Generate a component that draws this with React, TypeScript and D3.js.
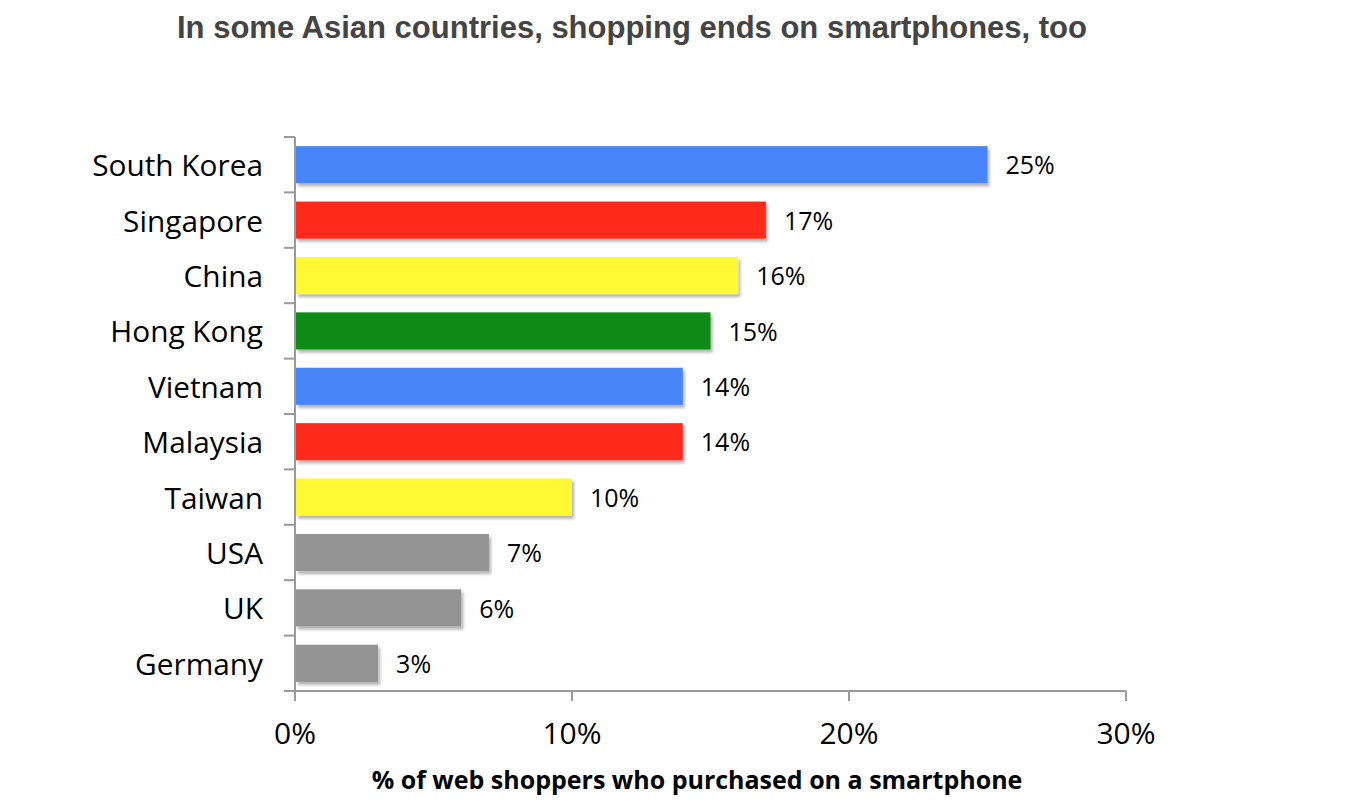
import React from "react";
import * as d3 from "d3";

const countries = ["South Korea", "Singapore", "China", "Hong Kong", "Vietnam", "Malaysia", "Taiwan", "USA", "UK", "Germany"];
const shares = [25, 17, 16, 15, 14, 14, 10, 7, 6, 3];
const barColors = ["#4885FA", "#FF2B1F", "#FFF935", "#0E8B19", "#4885FA", "#FF2B1F", "#FFF935", "#939393", "#939393", "#939393"];
const xTicks = [0, 10, 20, 30];
const title = "In some Asian countries, shopping ends on smartphones, too";
const xTitle = "% of web shoppers who purchased on a smartphone";

const W = 1346;
const H = 810;
const left = 295;
const right = 1126;
const top = 137;
const bottom = 691;

export default function App() {
  const x = d3.scaleLinear().domain([0, 30]).range([left, right]);
  const y = d3.scaleBand<string>().domain(countries).range([top, bottom]).paddingInner(0.33).paddingOuter(0.165);
  const step = y.step();
  const boundaries = d3.range(countries.length + 1).map((i) => top + i * step);
  const font = "'Open Sans', sans-serif";
  return (
    <svg width={W} height={H} style={{ position: "absolute", left: 0, top: 0, background: "#fff" }}>
      <defs>
        <filter id="sh" x="-5%" y="-20%" width="110%" height="160%">
          <feDropShadow dx="2" dy="3" stdDeviation="1.6" floodColor="#000" floodOpacity="0.3" />
        </filter>
      </defs>
      <text x={632} y={38} textAnchor="middle" fontFamily="'Liberation Sans', Arial, sans-serif" fontWeight="bold" fontSize={31} fill="#444">
        {title}
      </text>
      {countries.map((c, i) => (
        <g key={c}>
          <rect x={x(0) + 1} y={y(c)!} width={x(shares[i]) - x(0) - 1} height={y.bandwidth()} fill={barColors[i]} filter="url(#sh)" />
          <text x={x(shares[i]) + 18} y={y(c)! + y.bandwidth() / 2 + 1} dy="0.35em" fontFamily={font} fontSize={25} fill="#000">
            {shares[i]}%
          </text>
          <text x={263} y={y(c)! + y.bandwidth() / 2 + 1} dy="0.35em" textAnchor="end" fontFamily={font} fontSize={29.8} fill="#000">
            {c}
          </text>
        </g>
      ))}
      <g stroke="#999" strokeWidth={2} fill="none">
        <line x1={left} x2={left} y1={top} y2={bottom} />
        <line x1={left} x2={right} y1={bottom} y2={bottom} />
        {boundaries.map((b, i) => (
          <line key={"yt" + i} x1={left - 11} x2={left} y1={b} y2={b} />
        ))}
        {xTicks.map((t) => (
          <line key={"xt" + t} x1={x(t)} x2={x(t)} y1={bottom} y2={bottom + 10} />
        ))}
      </g>
      {xTicks.map((t) => (
        <text key={"xl" + t} x={x(t)} y={744} textAnchor="middle" fontFamily={font} fontSize={30} fill="#000">
          {t}%
        </text>
      ))}
      <text x={697} y={789} textAnchor="middle" fontFamily={font} fontWeight="bold" fontSize={25} fill="#000">
        {xTitle}
      </text>
    </svg>
  );
}
